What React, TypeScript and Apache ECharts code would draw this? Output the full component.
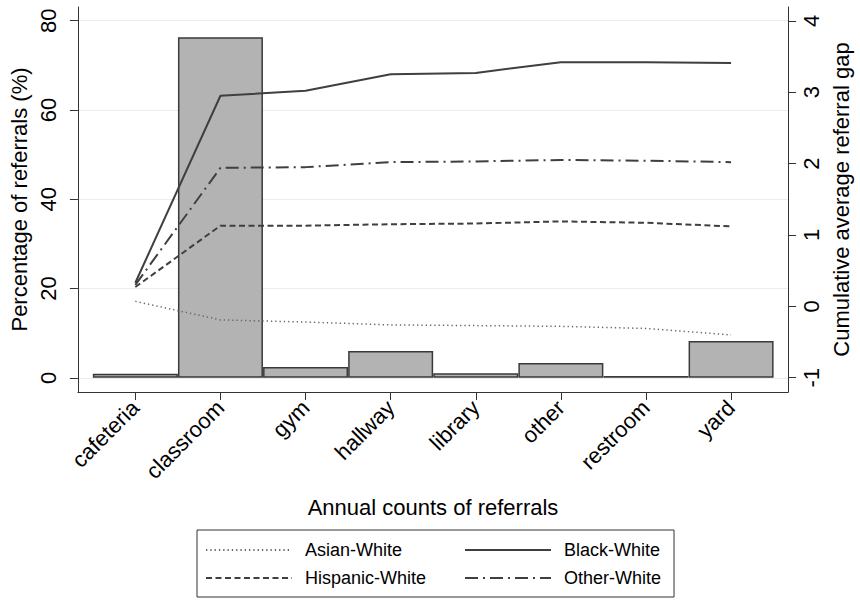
import React, { useEffect, useRef } from 'react';
import * as echarts from 'echarts';

const categories = ['cafeteria', 'classroom', 'gym', 'hallway', 'library', 'other', 'restroom', 'yard'];
const referralPct = [0.9, 76.3, 2.4, 6.0, 1.0, 3.3, 0.4, 8.25];
const asianWhite = [0.07, -0.19, -0.22, -0.26, -0.27, -0.28, -0.31, -0.4];
const blackWhite = [0.33, 2.95, 3.02, 3.25, 3.27, 3.42, 3.42, 3.41];
const hispanicWhite = [0.27, 1.13, 1.13, 1.15, 1.16, 1.19, 1.17, 1.12];
const otherWhite = [0.3, 1.94, 1.95, 2.02, 2.03, 2.05, 2.04, 2.02];
const leftTicks = [0, 20, 40, 60, 80];
const rightTicks = [-1, 0, 1, 2, 3, 4];

const FONT = 'Liberation Sans, Arial, Helvetica, sans-serif';
const AXIS = '#333333';
const LINE = '#3f3f3f';

export default function App() {
  const ref = useRef<HTMLDivElement>(null);
  useEffect(() => {
    document.body.style.margin = '0';
    const chart = echarts.init(ref.current!, null, { renderer: 'svg' });
    const xPos = categories.map((_, i) => i + 1);
    const pair = (arr: number[]) => arr.map((v, i) => [xPos[i], v]);
    const option: any = {
      animation: false,
      backgroundColor: '#ffffff',
      textStyle: { fontFamily: FONT, color: '#000' },
      grid: { left: 73, right: 66, top: 7, bottom: 214, containLabel: false },
      xAxis: {
        type: 'value',
        min: 0.325,
        max: 8.67,
        axisLine: { show: true, onZero: false, lineStyle: { color: AXIS, width: 1 } },
        axisTick: { show: true, length: 8, customValues: xPos, lineStyle: { color: AXIS, width: 1 } },
        axisLabel: {
          customValues: xPos,
          rotate: 45,
          margin: 12,
          fontSize: 22,
          color: '#000',
          fontFamily: FONT,
          formatter: (v: number) => categories[Math.round(v) - 1] ?? '',
        },
        splitLine: { show: false },
        name: 'Annual counts of referrals',
        nameLocation: 'middle',
        nameGap: 104,
        nameTextStyle: { fontSize: 22, color: '#000', fontFamily: FONT },
      },
      yAxis: [
        {
          type: 'value',
          position: 'left',
          min: -3.19,
          max: 83.07,
          axisLine: { show: true, onZero: false, lineStyle: { color: AXIS, width: 1 } },
          axisTick: { show: true, length: 8, customValues: leftTicks, lineStyle: { color: AXIS, width: 1 } },
          axisLabel: { customValues: leftTicks, rotate: 90, margin: 18, fontSize: 22, color: '#000', fontFamily: FONT },
          splitLine: { show: true, lineStyle: { color: '#e7eef0', width: 1.2 } },
          name: 'Percentage of referrals (%)',
          nameLocation: 'middle',
          nameRotate: 90,
          nameGap: 40,
          nameTextStyle: { fontSize: 22, color: '#000', fontFamily: FONT },
        },
        {
          type: 'value',
          position: 'right',
          min: -1.2,
          max: 4.193,
          axisLine: { show: true, onZero: false, lineStyle: { color: AXIS, width: 1 } },
          axisTick: { show: true, length: 8, customValues: rightTicks, lineStyle: { color: AXIS, width: 1 } },
          axisLabel: { customValues: rightTicks, rotate: 90, margin: 12, fontSize: 22, color: '#000', fontFamily: FONT },
          splitLine: { show: false },
          name: 'Cumulative average referral gap',
          nameLocation: 'middle',
          nameRotate: 90,
          nameGap: 38,
          nameTextStyle: { fontSize: 22, color: '#000', fontFamily: FONT },
        },
      ],
      legend: {
        left: 197,
        top: 530,
        width: 460,
        orient: 'horizontal',
        itemWidth: 86,
        itemHeight: 14,
        itemGap: 8,
        padding: [10, 13, 9, 8],
        borderColor: AXIS,
        borderWidth: 1,
        backgroundColor: '#fff',
        selectedMode: false,
        itemStyle: { opacity: 0 },
        textStyle: { fontSize: 18, color: '#000', fontFamily: FONT, padding: [0, 0, 0, 8], lineHeight: 20 },
        data: [
          { name: 'Asian-White', textStyle: { width: 151 } },
          { name: 'Black-White' },
          { name: 'Hispanic-White', textStyle: { width: 151 } },
          { name: 'Other-White' },
        ],
      },
      series: [
        {
          type: 'bar',
          name: 'Referrals',
          yAxisIndex: 0,
          data: pair(referralPct),
          barWidth: 85,
          itemStyle: { color: '#b3b3b3', borderColor: '#3a3a3a', borderWidth: 1.5 },
          silent: true,
        },
        {
          type: 'line',
          name: 'Asian-White',
          yAxisIndex: 1,
          data: pair(asianWhite),
          symbol: 'none',
          lineStyle: { color: '#666666', width: 1.5, type: [1.3, 3] },
          itemStyle: { color: '#666666' },
        },
        {
          type: 'line',
          name: 'Black-White',
          yAxisIndex: 1,
          data: pair(blackWhite),
          symbol: 'none',
          lineStyle: { color: LINE, width: 2, type: 'solid' },
          itemStyle: { color: LINE },
        },
        {
          type: 'line',
          name: 'Hispanic-White',
          yAxisIndex: 1,
          data: pair(hispanicWhite),
          symbol: 'none',
          lineStyle: { color: LINE, width: 2, type: [6, 3.5] },
          itemStyle: { color: LINE },
        },
        {
          type: 'line',
          name: 'Other-White',
          yAxisIndex: 1,
          data: pair(otherWhite),
          symbol: 'none',
          lineStyle: { color: LINE, width: 2, type: [13, 5, 2, 5] },
          itemStyle: { color: LINE },
        },
      ],
    };
    chart.setOption(option);
    return () => chart.dispose();
  }, []);
  return (
    <div
      ref={ref}
      style={{ position: 'absolute', left: 0, top: 0, width: 860, height: 606, background: '#fff' }}
    />
  );
}
